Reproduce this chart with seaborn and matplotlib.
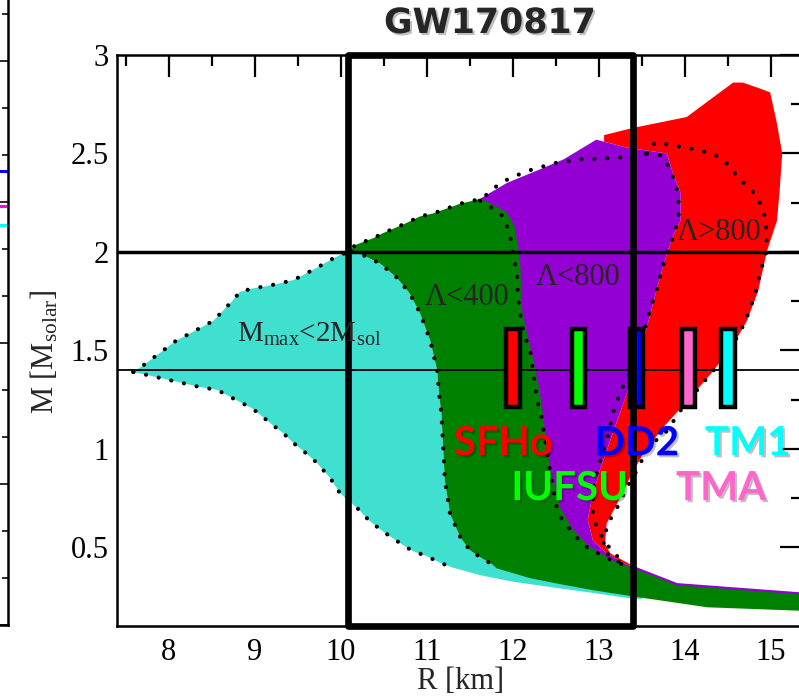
import matplotlib
matplotlib.use("Agg")
import numpy as np
import pandas as pd
import matplotlib.pyplot as plt
import matplotlib.patheffects as pe
from matplotlib.patches import Rectangle
from matplotlib.ticker import MultipleLocator, FuncFormatter
import seaborn as sns

# ---------------------------------------------------------------- data (R in km, M in solar masses)
# outer envelope, upper side: low-mass tip up to the M = 2 crossing
cyan_top_R = [7.59, 7.71, 8.09, 8.25, 8.52, 8.73, 8.83, 8.98, 9.14, 9.29, 9.45, 9.60, 9.74, 9.875, 9.99, 10.09]
cyan_top_M = [1.39, 1.425, 1.55, 1.586, 1.65, 1.746, 1.797, 1.815, 1.826, 1.84, 1.857, 1.891, 1.924, 1.958, 1.984, 2.0]
# outer envelope, lower side (dotted), from the tip to the right
cyan_low_R = [7.59, 7.76, 8.10, 8.37, 8.56, 8.69, 8.83, 8.97, 9.10, 9.21, 9.33, 9.45, 9.59, 9.72, 9.88, 9.99,
              10.19, 10.32, 10.46, 10.59, 10.71, 10.84, 11.0, 11.14, 11.29]
cyan_low_M = [1.39, 1.374, 1.34, 1.313, 1.30, 1.27, 1.237, 1.206, 1.16, 1.12, 1.08, 1.03, 0.98, 0.93, 0.85, 0.775,
              0.70, 0.64, 0.59, 0.55, 0.515, 0.48, 0.455, 0.424, 0.398]
# thin low-mass tail of the Mmax<2Msol band
cyan_tail_R = [11.29, 11.62, 12.0, 12.40, 12.93, 13.33, 13.50]
cyan_tail_M = [0.398, 0.358, 0.325, 0.30, 0.268, 0.243, 0.236]

# upper edge of the Lambda<400 band
green_top_R = [10.09, 10.17, 10.26, 10.38, 10.49, 10.65, 10.78, 10.92, 11.07, 11.23, 11.39, 11.54, 11.62]
green_top_M = [2.0, 2.035, 2.05, 2.07, 2.095, 2.125, 2.15, 2.18, 2.195, 2.22, 2.245, 2.26, 2.27]
# Lambda<400 boundary, small-radius side
green_left_R = [10.13, 10.26, 10.46, 10.65, 10.80, 10.92, 11.04, 11.12, 11.15, 11.17, 11.19, 11.21, 11.27,
                11.39, 11.50, 11.64, 11.77]
green_left_M = [2.0, 1.984, 1.94, 1.87, 1.79, 1.69, 1.55, 1.40, 1.25, 1.18, 1.01, 0.84, 0.67,
                0.55, 0.485, 0.444, 0.41]
# Lambda<400 / Lambda<800 colour boundary
green_right_R = [11.62, 11.77, 11.93, 12.02, 12.06, 12.09, 12.10, 12.16, 12.24, 12.30, 12.35, 12.39, 12.47,
                 12.55, 12.70, 12.90, 13.17, 13.36]
green_right_M = [2.27, 2.24, 2.20, 2.13, 2.03, 1.91, 1.72, 1.59, 1.45, 1.32, 1.18, 1.01, 0.84,
                 0.70, 0.59, 0.50, 0.43, 0.40]
# low-mass band beyond the box
band_top_R = [13.36, 13.40, 13.91, 15.5]
band_top_M = [0.40, 0.393, 0.307, 0.255]
band_bot_R = [15.5, 14.26, 13.40, 12.93, 12.58, 12.2, 11.81, 11.77]
band_bot_M = [0.175, 0.195, 0.25, 0.282, 0.31, 0.343, 0.393, 0.41]

# Lambda<800 band
purple_top_R = [11.62, 11.93, 12.32, 12.59, 12.97, 13.32, 13.79]
purple_top_M = [2.27, 2.35, 2.42, 2.47, 2.57, 2.53, 2.50]
purple_right_R = [13.79, 13.86, 13.95, 13.95, 13.86, 13.79, 13.71, 13.63, 13.56, 13.45, 13.34, 13.17, 13.01,
                  12.92, 12.87, 12.93, 13.09, 13.33, 13.40]
purple_right_M = [2.50, 2.40, 2.30, 2.16, 2.08, 1.99, 1.87, 1.74, 1.62, 1.46, 1.30, 1.09, 0.89,
                  0.75, 0.64, 0.535, 0.47, 0.41, 0.405]
purple_band_R = [13.40, 13.91, 15.5]
purple_band_M = [0.405, 0.318, 0.266]

# Lambda>800 region, clockwise from its upper-left corner
red_edge_R = [13.06, 13.06, 13.40, 14.02, 14.56, 14.67, 14.87, 14.99, 15.07, 15.13, 15.10, 15.07, 14.95,
              14.85, 14.72, 14.55, 14.30, 14.02, 13.75, 13.52, 13.38, 13.21, 13.09, 13.07, 13.13, 13.25, 13.38]
red_edge_M = [2.56, 2.593, 2.63, 2.685, 2.86, 2.86, 2.83, 2.81, 2.65, 2.50, 2.31, 2.16, 2.00,
              1.80, 1.65, 1.52, 1.38, 1.24, 1.11, 0.98, 0.87, 0.72, 0.62, 0.52, 0.47, 0.44, 0.41]

# dotted contours
outer_R = [11.62, 11.73, 11.85, 12.0, 12.16, 12.32, 12.47, 12.63, 12.78, 12.93, 13.09, 13.25, 13.45, 13.56,
           13.65, 13.83, 13.98, 14.14, 14.29, 14.41, 14.53, 14.63, 14.74, 14.84, 14.91, 14.94, 14.95, 14.94,
           14.87, 14.82, 14.74, 14.64, 14.45, 14.22, 13.94, 13.79, 13.63, 13.52, 13.44, 13.32, 13.21, 13.13,
           13.07, 13.05, 13.09, 13.21, 13.33]
outer_M = [2.27, 2.30, 2.35, 2.38, 2.41, 2.43, 2.45, 2.46, 2.47, 2.47, 2.475, 2.48, 2.49, 2.50,
           2.555, 2.545, 2.53, 2.52, 2.50, 2.48, 2.43, 2.37, 2.33, 2.28, 2.21, 2.15, 2.08, 1.99,
           1.89, 1.79, 1.69, 1.59, 1.46, 1.34, 1.19, 1.09, 1.03, 0.96, 0.89, 0.80, 0.70, 0.64,
           0.57, 0.50, 0.47, 0.43, 0.41]
l400_R = [11.62, 11.77, 11.89, 11.95, 11.99, 12.0, 12.05, 12.05, 12.06, 12.08, 12.10, 12.14, 12.20, 12.24,
          12.28, 12.33, 12.39, 12.45, 12.51, 12.58, 12.69, 12.78, 12.90, 13.05, 13.19, 13.33]
l400_M = [2.26, 2.22, 2.18, 2.11, 2.04, 1.97, 1.91, 1.84, 1.77, 1.70, 1.64, 1.57, 1.50, 1.38,
          1.25, 1.17, 1.0, 0.84, 0.70, 0.63, 0.58, 0.53, 0.485, 0.46, 0.42, 0.41]
l800_R = [13.56, 13.73, 13.83, 13.88, 13.92, 13.93, 13.92, 13.85, 13.79, 13.73, 13.68, 13.62, 13.56, 13.48,
          13.38, 13.26, 13.16, 13.09, 12.99, 12.93, 12.93, 12.98, 13.09, 13.16, 13.33]
l800_M = [2.50, 2.49, 2.42, 2.35, 2.30, 2.21, 2.16, 2.06, 1.99, 1.91, 1.82, 1.74, 1.65, 1.52,
          1.40, 1.30, 1.18, 1.04, 0.905, 0.79, 0.67, 0.59, 0.52, 0.47, 0.42]

# equations of state: radius at 1.4 Msun and the mass range of each marker
eos_names = ["SFHo", "IUFSU", "DD2", "TMA", "TM1"]
eos_radius = [12.0, 12.76, 13.44, 14.04, 14.50]
eos_colors = ["#FF0000", "#00FF00", "#0000FF", "#FF66CC", "#00FFFF"]
bar_low = [1.21, 1.21, 1.21, 1.21, 1.21]
bar_high = [1.61, 1.61, 1.61, 1.61, 1.61]
eos_label_R = [11.89, 12.66, 13.44, 14.42, 14.73]
eos_label_M = [0.967, 0.739, 0.967, 0.739, 0.967]

# GW170817 radius window and reference masses
window_R = [10.08, 13.40]
ref_masses = [2.0, 1.4]

# neighbouring panel: maximum-mass levels
side_levels = [3.22, 2.97, 2.84]
side_colors = ["#0000FF", "#FF00FF", "#00FFFF"]

# ---------------------------------------------------------------- style
sns.set_theme(style="white")
plt.rcParams["font.family"] = ["Liberation Serif", "DejaVu Serif"]
plt.rcParams["mathtext.default"] = "regular"
plt.rcParams["axes.edgecolor"] = "black"
plt.rcParams["axes.linewidth"] = 1.8

W, H = 799, 699
fig = plt.figure(figsize=(W / 100, H / 100), dpi=100)


def px_axes(x0, y0, x1, y1):
    return fig.add_axes([x0 / W, 1 - y1 / H, (x1 - x0) / W, (y1 - y0) / H])


# ---------------------------------------------------------------- neighbouring panel (right edge only)
ax0 = px_axes(-60, -10, 8, 625)
ax0.set_xlim(0, 1)
ax0.set_ylim(0, 635 / 141)
for side in ["left", "top"]:
    ax0.spines[side].set_visible(False)
ax0.set_xticks([])
ax0.yaxis.set_major_locator(MultipleLocator(1))
ax0.yaxis.set_minor_locator(MultipleLocator(1 / 3))
ax0.yaxis.tick_right()
ax0.tick_params(axis="y", which="both", direction="in", right=True, left=False,
                labelright=False, width=1.3, colors="k")
ax0.tick_params(axis="y", which="major", length=16)
ax0.tick_params(axis="y", which="minor", length=4)
for lev, col in zip(side_levels, side_colors):
    ax0.axhline(lev, color=col, lw=2.2)

# ---------------------------------------------------------------- main panel
ax = px_axes(117, 55, 802, 626)
ax.set_xlim(7.4, 15.36)
ax.set_ylim(0.1, 3.0)


def cat(*parts):
    return np.concatenate([np.asarray(p, dtype=float) for p in parts])


# Lambda>800 (red) sits underneath, its left side follows the purple edge
red_R = cat(red_edge_R, purple_right_R[::-1][1:], [13.32, 13.06])
red_M = cat(red_edge_M, purple_right_M[::-1][1:], [2.53, 2.56])
ax.fill(red_R, red_M, color="#FF0000", lw=0, zorder=1)

# Lambda<800 (purple); its hidden side runs under the green band
purple_R = cat(purple_top_R, purple_right_R[1:], purple_band_R, [15.5, 13.4, 12.5, 12.2, 11.9])
purple_M = cat(purple_top_M, purple_right_M[1:], purple_band_M, [0.22, 0.30, 0.45, 1.0, 2.0])
ax.fill(purple_R, purple_M, color="#9400D3", lw=0, zorder=1.1)

# Mmax<2Msol (turquoise); its right side runs under the green band
cyan_R = cat(cyan_top_R, green_left_R, [12.0, 13.5], cyan_tail_R[::-1], cyan_low_R[::-1])
cyan_M = cat(cyan_top_M, green_left_M, [0.6, 0.30], cyan_tail_M[::-1], cyan_low_M[::-1])
ax.fill(cyan_R, cyan_M, color="#40E0D0", lw=0, zorder=1.2)

# Lambda<400 (green)
green_R = cat(green_top_R, green_right_R[1:], band_top_R, band_bot_R, green_left_R[::-1])
green_M = cat(green_top_M, green_right_M[1:], band_top_M, band_bot_M, green_left_M[::-1])
ax.fill(green_R, green_M, color="#008000", lw=0, zorder=1.3)

# dotted contours
outer_upper = pd.DataFrame({"R": cat(cyan_top_R, green_top_R[1:], outer_R[1:]),
                            "M": cat(cyan_top_M, green_top_M[1:], outer_M[1:])})
contours = [
    outer_upper,
    pd.DataFrame({"R": cyan_low_R, "M": cyan_low_M}),
    pd.DataFrame({"R": green_left_R, "M": green_left_M}),
    pd.DataFrame({"R": l400_R, "M": l400_M}),
    pd.DataFrame({"R": l800_R, "M": l800_M}),
]
for df in contours:
    sns.lineplot(data=df, x="R", y="M", sort=False, estimator=None, ax=ax, color="black",
                 lw=3.0, linestyle=(0, (0.01, 3.1)), dash_capstyle="round", zorder=2)

# reference masses
ax.axhline(ref_masses[0], color="black", lw=2.5, zorder=3)
ax.axhline(ref_masses[1], color="black", lw=1.3, zorder=3)

# EOS markers
ax.bar(eos_radius, np.subtract(bar_high, bar_low), bottom=bar_low, width=0.155,
       color=eos_colors, edgecolor="black", linewidth=3.2, zorder=4)

# GW170817 window
ax.add_patch(Rectangle((window_R[0], 0.1), window_R[1] - window_R[0], 2.9, fill=False,
                       ec="black", lw=4.8, joinstyle="round", zorder=6, clip_on=False))

# region labels
ax.text(8.80, 1.545, "M$_{max}$<2M$_{sol}$", fontsize=21, ha="left", va="baseline", zorder=7)
ax.text(11.47, 1.73, "Λ<400", fontsize=22, ha="center", va="baseline", zorder=7)
ax.text(12.76, 1.831, "Λ<800", fontsize=22, ha="center", va="baseline", zorder=7)
ax.text(14.40, 2.06, "Λ>800", fontsize=22, ha="center", va="baseline", zorder=7)

shadow = [pe.withSimplePatchShadow(offset=(1.5, -1.5), shadow_rgbFace="black", alpha=0.25)]
order = ["SFHo", "IUFSU", "DD2", "TMA", "TM1"]
for name in order:
    i = eos_names.index(name)
    ax.text(eos_label_R[i], eos_label_M[i], name, color=eos_colors[i], fontsize=29,
            fontweight="bold", family=["Lato", "DejaVu Sans"], ha="center", va="baseline",
            path_effects=shadow, zorder=8)

# axes cosmetics
ax.xaxis.set_major_locator(MultipleLocator(1))
ax.xaxis.set_minor_locator(MultipleLocator(0.5))
ax.yaxis.set_major_locator(MultipleLocator(0.5))
ax.yaxis.set_minor_locator(MultipleLocator(0.25))
ax.yaxis.set_major_formatter(FuncFormatter(lambda v, p: f"{v:g}"))
ax.tick_params(which="both", direction="in", top=True, right=True, width=1.6, colors="black",
               labelsize=22)
ax.tick_params(which="major", length=16)
ax.tick_params(which="minor", length=8)
ax.tick_params(axis="x", pad=9)
ax.tick_params(axis="y", pad=6)
for sp in ax.spines.values():
    sp.set_color("black")
    sp.set_linewidth(1.8)

ax.set_xlabel("R [km]", fontsize=22)
ax.xaxis.set_label_coords(0.502, -0.072)
ax.set_ylabel("M [M$_{solar}$]", fontsize=22)
ax.yaxis.set_label_coords(-0.082, 0.48)

fig.text(490 / W, 1 - 23 / H, "GW170817", fontsize=25, fontweight="bold", family="DejaVu Sans",
         ha="center", va="center", path_effects=shadow)

fig.savefig("out.png", dpi=100)
